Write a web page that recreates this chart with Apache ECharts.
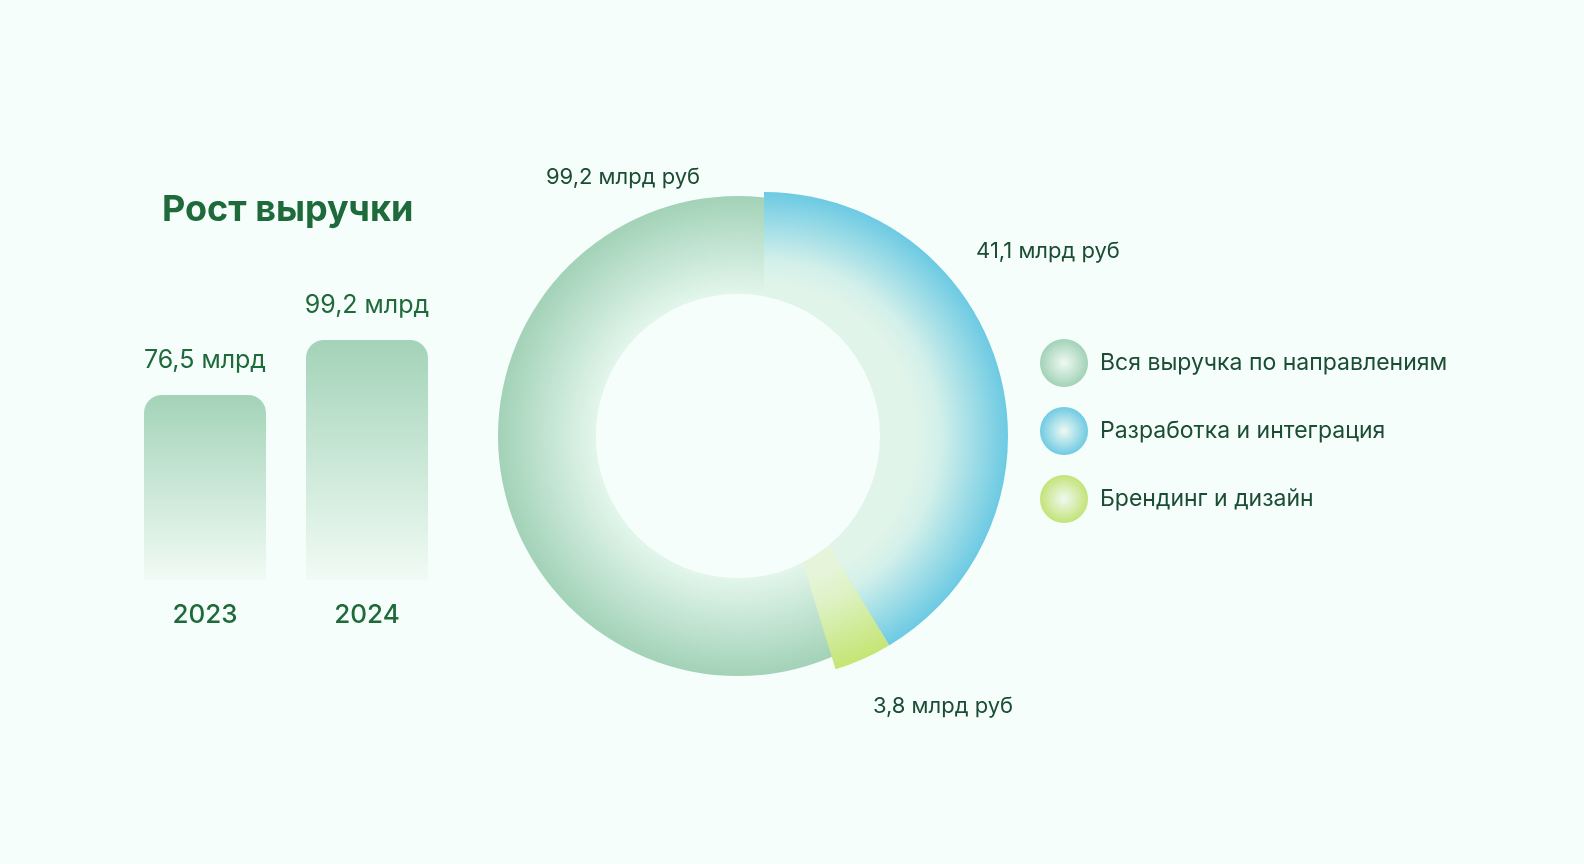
<!DOCTYPE html>
<html>
<head>
<meta charset="utf-8">
<script src="https://cdn.jsdelivr.net/npm/echarts@6/dist/echarts.min.js"></script>
<style>
html,body{margin:0;padding:0;background:#f5fefa;}
#c{width:1584px;height:864px;}
</style>
</head>
<body>
<div id="c"></div>
<script>
// ---- data ----
const barCategories = ['2023', '2024'];
const barValues = [76.5, 99.2];
const chartTitle = 'Рост выручки';
const segmentNames = ['Вся выручка по направлениям', 'Разработка и интеграция', 'Брендинг и дизайн'];
const totalRevenue = 99.2;
const segmentValues = [41.1, 3.8];
const unitShort = 'млрд';
const unitLong = 'млрд руб';

// ---- helpers ----
const fmt = v => String(v).replace('.', ',');
const FONT = 'Inter';
const BG = '#f5fefa';
const ringCenter = [738, 436];
const ringRadius = [142, 240];
const segCenter = [764, 436];
const segR = 244;
const segInner = 115;

function radial(stops, glob, cx, cy, r) {
  const g = { type: 'radial', colorStops: stops.map(s => ({ offset: s[0], color: s[1] })) };
  if (glob) { g.x = cx; g.y = cy; g.r = r; g.global = true; } else { g.x = 0.5; g.y = 0.5; g.r = 0.5; }
  return g;
}

const ringColor = radial([[0, '#e4f6ec'], [0.59, '#e3f6ec'], [1, '#a2d2b7']], false);
const blueColor = radial([[0, '#e0f4ea'], [0.62, '#e0f4ea'], [0.72, '#d3f0ea'], [1, '#6ccae3']], true, segCenter[0], segCenter[1], segR);
const limeColor = radial([[0, '#e6f5dc'], [0.6, '#e6f5da'], [0.72, '#def2c6'], [1, '#c5e574']], true, segCenter[0], segCenter[1], segR);

const legendIcon = c => radial([[0, '#eef9f2'], [1, c]], false);

const filler = totalRevenue - segmentValues.reduce((a, b) => a + b, 0);

const chart = echarts.init(document.getElementById('c'), null, { renderer: 'canvas' });
chart.setOption({
  backgroundColor: BG,
  animation: false,
  textStyle: { fontFamily: FONT },
  title: {
    text: chartTitle,
    left: 157, top: 187,
    textStyle: { fontFamily: FONT, fontSize: 36, fontWeight: 'bold', color: '#1f6a3b' }
  },
  legend: {
    orient: 'vertical',
    left: 1035, top: 334,
    itemWidth: 48, itemHeight: 48, itemGap: 20,
    icon: 'circle',
    selectedMode: false,
    textStyle: { fontFamily: FONT, fontSize: 23, color: '#1b4d35', padding: [0, 0, 0, 7] },
    data: [
      { name: segmentNames[0], itemStyle: { color: legendIcon('#a2d2b7') } },
      { name: segmentNames[1], itemStyle: { color: legendIcon('#70cae3') } },
      { name: segmentNames[2], itemStyle: { color: legendIcon('#c3e377') } }
    ]
  },
  grid: { left: 124, width: 324, top: 340, height: 240 },
  xAxis: {
    type: 'category',
    data: barCategories,
    axisLine: { show: false }, axisTick: { show: false },
    axisLabel: { fontFamily: FONT, fontSize: 26, fontWeight: 500, color: '#1f6a3b', margin: 22 }
  },
  yAxis: { type: 'value', min: 0, max: v => v.max, show: false, splitLine: { show: false } },
  series: [
    {
      type: 'bar',
      data: barValues,
      barWidth: 122,
      silent: true,
      itemStyle: {
        borderRadius: [18, 18, 0, 0],
        color: { type: 'linear', x: 0, y: 0, x2: 0, y2: 1,
          colorStops: [{ offset: 0, color: '#a3d3b8' }, { offset: 1, color: '#f1fbf5' }] }
      },
      label: {
        show: true, position: 'top', distance: 22,
        fontFamily: FONT, fontSize: 25, color: '#1f6a3b',
        formatter: p => fmt(p.value) + ' ' + unitShort
      }
    },
    {
      type: 'pie',
      center: ringCenter,
      radius: ringRadius,
      startAngle: 90,
      silent: true,
      z: 2,
      data: [{ name: segmentNames[0], value: totalRevenue, itemStyle: { color: ringColor } }],
      label: {
        show: true, position: 'outside', fontFamily: FONT, fontSize: 22, color: '#1b4d35',
        formatter: p => fmt(p.value) + ' ' + unitLong
      },
      labelLine: { show: false },
      labelLayout: () => ({ x: 623, y: 177, align: 'center', verticalAlign: 'middle' })
    },
    {
      type: 'pie',
      center: segCenter,
      radius: [segInner, segR],
      startAngle: 90,
      silent: true,
      z: 3,
      avoidLabelOverlap: false,
      data: [
        { name: segmentNames[1], value: segmentValues[0], itemStyle: { color: blueColor } },
        { name: segmentNames[2], value: segmentValues[1], itemStyle: { color: limeColor } },
        { name: '', value: filler, itemStyle: { color: 'rgba(0,0,0,0)' }, label: { show: false } }
      ],
      label: {
        show: true, position: 'outside', fontFamily: FONT, fontSize: 22, color: '#1b4d35',
        formatter: p => fmt(p.value) + ' ' + unitLong
      },
      labelLine: { show: false },
      labelLayout: p => {
        if (p.dataIndex === 0) return { x: 1048, y: 251, align: 'center', verticalAlign: 'middle' };
        if (p.dataIndex === 1) return { x: 943, y: 706, align: 'center', verticalAlign: 'middle' };
        return {};
      }
    },
    {
      // donut hole, painted in the page colour over the offset segments
      type: 'pie',
      center: ringCenter,
      radius: [0, ringRadius[0]],
      silent: true,
      z: 4,
      label: { show: false },
      labelLine: { show: false },
      data: [{ name: '', value: totalRevenue, itemStyle: { color: BG } }]
    }
  ]
});
</script>
</body>
</html>
